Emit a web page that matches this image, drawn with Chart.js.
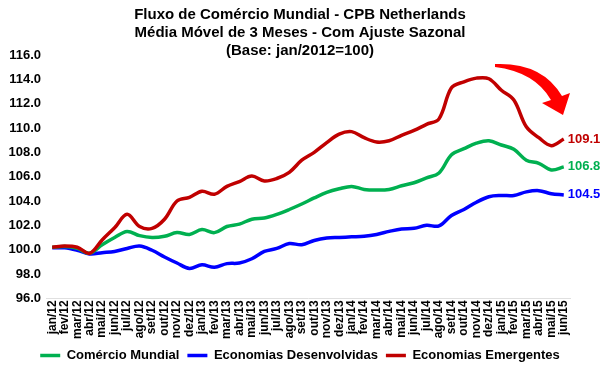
<!DOCTYPE html>
<html>
<head>
<meta charset="utf-8">
<script src="https://cdn.jsdelivr.net/npm/chart.js@4"></script>
<style>
  html, body { margin: 0; padding: 0; background: #fff; }
</style>
</head>
<body>
<canvas id="chart" width="600" height="372"></canvas>
<script>
// ======================= DADOS =======================
const meses = ['jan/12','fev/12','mar/12','abr/12','mai/12','jun/12','jul/12','ago/12','set/12','out/12','nov/12','dez/12',
  'jan/13','fev/13','mar/13','abr/13','mai/13','jun/13','jul/13','ago/13','set/13','out/13','nov/13','dez/13',
  'jan/14','fev/14','mar/14','abr/14','mai/14','jun/14','jul/14','ago/14','set/14','out/14','nov/14','dez/14',
  'jan/15','fev/15','mar/15','abr/15','mai/15','jun/15'];

const comercioMundial = [100.2,100.25,100.1,99.7,100.4,101.0,101.5,101.15,101.0,101.1,101.4,101.25,
  101.65,101.4,101.9,102.1,102.5,102.6,102.9,103.3,103.75,104.25,104.7,105.0,
  105.2,104.95,104.9,104.95,105.25,105.5,105.9,106.3,107.8,108.3,108.75,108.95,
  108.6,108.25,107.35,107.1,106.55,106.8];

const economiasDesenvolvidas = [100.15,100.15,99.95,99.65,99.75,99.85,100.1,100.3,99.95,99.4,98.9,98.45,
  98.75,98.55,98.85,98.9,99.25,99.85,100.1,100.5,100.4,100.75,100.95,101.0,
  101.05,101.1,101.25,101.5,101.7,101.75,102.0,101.95,102.8,103.3,103.9,104.35,
  104.45,104.45,104.75,104.85,104.6,104.5];

const economiasEmergentes = [100.2,100.3,100.2,99.7,100.8,101.8,102.9,101.9,101.75,102.5,104.0,104.3,
  104.8,104.55,105.2,105.6,106.05,105.65,105.85,106.35,107.35,108.0,108.8,109.5,
  109.7,109.2,108.85,108.95,109.4,109.8,110.3,110.75,113.3,113.8,114.1,114.05,
  113.1,112.3,110.1,109.2,108.55,109.1];

const tituloLinhas = ['Fluxo de Comércio Mundial - CPB Netherlands','Média Móvel de 3 Meses - Com Ajuste Sazonal','(Base: jan/2012=100)'];

const cores = { verde: '#00b050', azul: '#0000ff', vermelho: '#c00000' };

// ======================= PLUGINS =======================
const tituloPlugin = {
  id: 'titulo',
  afterDraw(chart) {
    const ctx = chart.ctx;
    ctx.save();
    ctx.fillStyle = '#000';
    ctx.font = 'bold 15px "Liberation Sans", Arial, sans-serif';
    ctx.textAlign = 'center';
    ctx.textBaseline = 'middle';
    tituloLinhas.forEach((t, i) => ctx.fillText(t, 300, 15 + i * 18));
    ctx.restore();
  }
};

const rotuloFinalPlugin = {
  id: 'rotuloFinal',
  afterDatasetsDraw(chart) {
    const ctx = chart.ctx;
    ctx.save();
    ctx.font = 'bold 13px "Liberation Sans", Arial, sans-serif';
    ctx.textAlign = 'left';
    ctx.textBaseline = 'middle';
    chart.data.datasets.forEach((ds, i) => {
      const meta = chart.getDatasetMeta(i);
      const pt = meta.data[meta.data.length - 1];
      ctx.fillStyle = ds.borderColor;
      ctx.fillText(ds.data[ds.data.length - 1].toFixed(1), pt.x + 4, pt.y);
    });
    ctx.restore();
  }
};

const setaPlugin = {
  id: 'seta',
  afterDatasetsDraw(chart) {
    const ctx = chart.ctx;
    ctx.save();
    ctx.fillStyle = '#ff0000';
    ctx.beginPath();
    ctx.moveTo(495, 64);
    ctx.quadraticCurveTo(542, 62, 562, 96);
    ctx.lineTo(570, 93);
    ctx.lineTo(563, 115);
    ctx.lineTo(542, 103);
    ctx.lineTo(551, 100);
    ctx.quadraticCurveTo(535, 72, 495, 67);
    ctx.closePath();
    ctx.fill();
    ctx.restore();
  }
};

// ======================= GRAFICO =======================
const fonte = '"Liberation Sans", Arial, sans-serif';

new Chart(document.getElementById('chart'), {
  type: 'line',
  data: {
    labels: meses,
    datasets: [
      { label: 'Comércio Mundial', data: comercioMundial, borderColor: cores.verde, backgroundColor: cores.verde, order: 1 },
      { label: 'Economias Desenvolvidas', data: economiasDesenvolvidas, borderColor: cores.azul, backgroundColor: cores.azul, order: 2 },
      { label: 'Economias Emergentes', data: economiasEmergentes, borderColor: cores.vermelho, backgroundColor: cores.vermelho, order: 0 }
    ].map(d => Object.assign(d, { borderWidth: 3.5, pointRadius: 0, pointStyle: 'line', tension: 0.35, fill: false }))
  },
  options: {
    responsive: false,
    animation: false,
    layout: { padding: { top: 55, right: 0, left: 0, bottom: 0 } },
    plugins: {
      title: { display: false },
      tooltip: { enabled: false },
      legend: {
        position: 'bottom',
        labels: {
          usePointStyle: true,
          pointStyleWidth: 20,
          color: '#000',
          padding: 8,
          font: { family: fonte, size: 13, weight: 'bold' },
          sort: (a, b) => a.datasetIndex - b.datasetIndex
        }
      }
    },
    scales: {
      x: {
        offset: true,
        grid: { display: false, drawTicks: false },
        border: { display: true, color: '#e0e0e0' },
        afterFit: s => { s.paddingRight = 30; },
        ticks: { color: '#000', autoSkip: false, minRotation: 90, maxRotation: 90, padding: 2,
          font: { family: fonte, size: 12, weight: 'bold' } }
      },
      y: {
        min: 96, max: 116,
        grid: { display: false, drawTicks: false },
        border: { display: false },
        afterFit: s => { s.width = 46; },
        ticks: { stepSize: 2, color: '#000', padding: 5,
          callback: v => v.toFixed(1),
          font: { family: fonte, size: 13, weight: 'bold' } }
      }
    }
  },
  plugins: [tituloPlugin, rotuloFinalPlugin, setaPlugin]
});
</script>
</body>
</html>
